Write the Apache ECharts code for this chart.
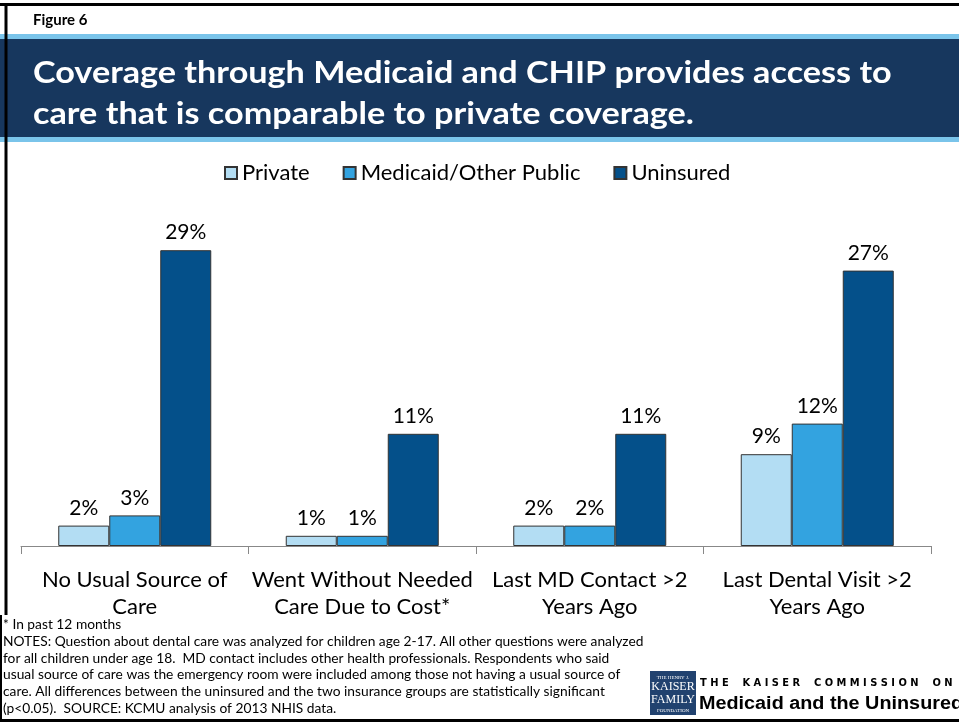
<!DOCTYPE html>
<html><head><meta charset="utf-8">
<script src="https://cdn.jsdelivr.net/npm/echarts@6/dist/echarts.min.js"></script>
<style>html,body{margin:0;padding:0;background:#fff}#c{width:959px;height:723px}</style>
</head><body><div id="c"></div>
<script>
const categories = ['No Usual Source of\nCare', 'Went Without Needed\nCare Due to Cost*', 'Last MD Contact >2\nYears Ago', 'Last Dental Visit >2\nYears Ago'];
const seriesNames = ['Private', 'Medicaid/Other Public', 'Uninsured'];
const privateVals = [2, 1, 2, 9];
const medicaidVals = [3, 1, 2, 12];
const uninsuredVals = [29, 11, 11, 27];
const colors = ['#B3DDF3', '#33A3E0', '#04508A'];
const figureLabel = 'Figure 6';
const titleLines = ['Coverage through Medicaid and CHIP provides access to', 'care that is comparable to private coverage.'];
const noteLines = [
  '* In past 12 months',
  'NOTES: Question about dental care was analyzed for children age 2-17. All other questions were analyzed',
  'for all children under age 18.  MD contact includes other health professionals. Respondents who said',
  'usual source of care was the emergency room were included among those not having a usual source of',
  'care. All differences between the uninsured and the two insurance groups are statistically significant',
  '(p<0.05).  SOURCE: KCMU analysis of 2013 NHIS data.'
];

const FONT = 'Lato, "Open Sans", sans-serif';
const chart = echarts.init(document.getElementById('c'), null, {renderer: 'canvas'});
const vals = [privateVals, medicaidVals, uninsuredVals];

const graphics = [
  {type: 'rect', shape: {x: 0, y: 34, width: 959, height: 108}, style: {fill: '#7AC4EA'}},
  {type: 'rect', shape: {x: 0, y: 39, width: 959, height: 98}, style: {fill: '#17375E'}},
  {type: 'text', x: 33, y: 20, style: {text: figureLabel, font: 'bold 15px ' + FONT, fill: '#000', verticalAlign: 'middle'}},
  {type: 'text', x: 33, y: 58, scaleX: 1.14, style: {text: titleLines[0], font: 'bold 30px ' + FONT, fill: '#fff', verticalAlign: 'top'}},
  {type: 'text', x: 33, y: 99, scaleX: 1.14, style: {text: titleLines[1], font: 'bold 30px ' + FONT, fill: '#fff', verticalAlign: 'top'}},
  {type: 'line', shape: {x1: 0, y1: 4.5, x2: 959, y2: 4.5}, style: {stroke: '#000', lineWidth: 3}},
  {type: 'line', shape: {x1: 0, y1: 720.5, x2: 959, y2: 720.5}, style: {stroke: '#000', lineWidth: 3}},
  {type: 'line', shape: {x1: 6, y1: 3, x2: 6, y2: 615}, style: {stroke: '#000', lineWidth: 3}},
  {type: 'line', shape: {x1: 1, y1: 615, x2: 1, y2: 722}, style: {stroke: '#000', lineWidth: 2}},
  // logo
  {type: 'rect', shape: {x: 650, y: 671, width: 46, height: 44}, style: {fill: '#21426F'}},
  {type: 'text', x: 673, y: 675, style: {text: 'THE HENRY J.', font: '5px "Liberation Serif", serif', fill: '#fff', align: 'center'}},
  {type: 'text', x: 673, y: 681, style: {text: 'KAISER', font: '12px "Liberation Serif", serif', fill: '#fff', align: 'center'}},
  {type: 'text', x: 673, y: 694, style: {text: 'FAMILY', font: '12px "Liberation Serif", serif', fill: '#fff', align: 'center'}},
  {type: 'text', x: 673, y: 708, style: {text: 'FOUNDATION', font: '5px "Liberation Serif", serif', fill: '#fff', align: 'center'}},
  {type: 'text', x: 700, y: 683, style: {text: 'T H E    K A I S E R    C O M M I S S I O N    O N', font: 'bold 11px "DejaVu Sans Condensed", "Liberation Sans", sans-serif', fill: '#000', verticalAlign: 'middle'}},
  {type: 'text', x: 699, y: 704, scaleX: 1.1, style: {text: 'Medicaid and the Uninsured', font: 'bold 18px "Liberation Sans", Arial, sans-serif', fill: '#000', verticalAlign: 'middle'}}
];
noteLines.forEach((t, i) => {
  graphics.push({type: 'text', x: 3, y: i === 0 ? 625 : 642 + (i - 1) * 16.6, scaleX: 1.06, style: {text: t, font: '13px ' + FONT, fill: '#000', verticalAlign: 'middle'}});
});

chart.setOption({
  animation: false,
  backgroundColor: '#fff',
  textStyle: {fontFamily: FONT},
  legend: {
    top: 157, left: 219, itemWidth: 12, itemHeight: 12, itemGap: 33, icon: 'rect',
    textStyle: {fontSize: 22, color: '#000', fontFamily: FONT},
    data: seriesNames
  },
  grid: {left: 21, right: 28, top: 240, bottom: 177, containLabel: false},
  xAxis: {
    type: 'category', data: categories,
    axisLine: {lineStyle: {color: '#888', width: 1}},
    axisTick: {show: true, length: 8, lineStyle: {color: '#888'}},
    axisLabel: {fontSize: 22, lineHeight: 27, color: '#000', margin: 20, interval: 0, fontFamily: FONT}
  },
  yAxis: {type: 'value', min: 0, max: 30, show: false, splitLine: {show: false}},
  series: seriesNames.map((n, i) => ({
    name: n, type: 'bar', data: vals[i], barWidth: 51, barGap: '0%',
    itemStyle: {color: colors[i], borderColor: '#333', borderWidth: 1},
    label: {show: true, position: 'top', distance: 7, formatter: '{c}%', fontSize: 21, color: '#000', fontFamily: FONT}
  })),
  graphic: graphics
});
</script></body></html>
